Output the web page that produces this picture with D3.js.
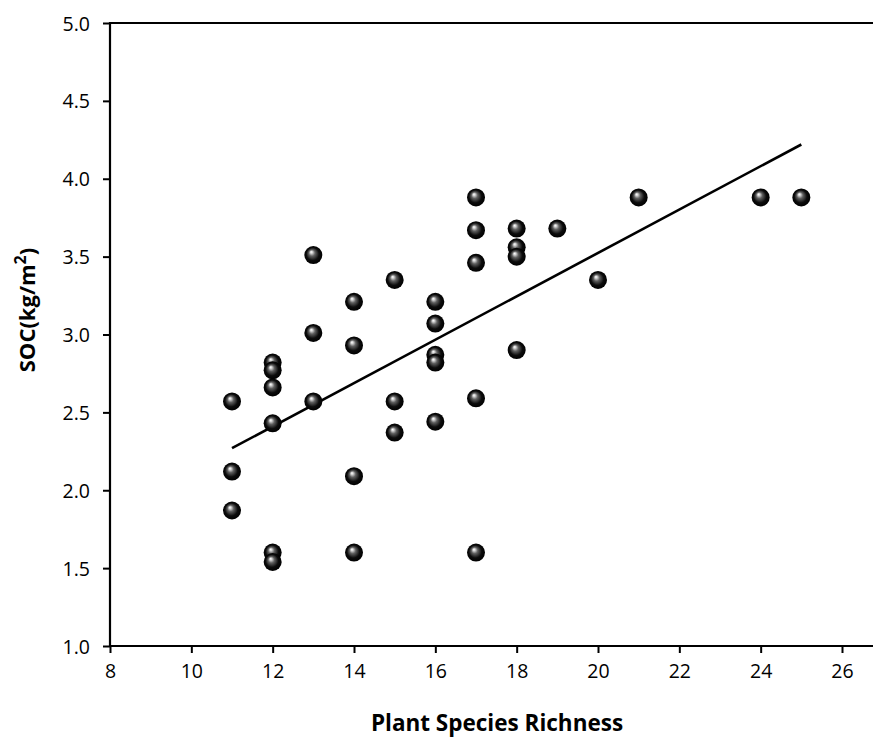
<!DOCTYPE html>
<html><head><meta charset="utf-8">
<script src="https://cdn.jsdelivr.net/npm/d3@7"></script>
<style>body{margin:0;background:#fff}svg{display:block}text{font-family:"Open Sans","Noto Sans",sans-serif}</style>
</head><body>
<svg id="c" width="873" height="738"></svg>
<script>
const richness = [11,11,11, 12,12,12,12,12,12, 13,13,13, 14,14,14,14, 15,15,15, 16,16,16,16,16, 17,17,17,17,17, 18,18,18,18, 19, 20, 21, 24, 25];
const soc      = [2.57,2.12,1.87, 2.82,2.77,2.66,2.43,1.60,1.54, 3.51,3.01,2.57, 3.21,2.93,2.09,1.60, 3.35,2.57,2.37, 3.21,3.07,2.87,2.82,2.44, 3.88,3.67,3.46,2.59,1.60, 3.68,3.56,3.50,2.90, 3.68, 3.35, 3.88, 3.88, 3.88];
const fitX = [11, 25];
const fitY = [2.27, 4.22];
const xTicks = [8,10,12,14,16,18,20,22,24,26];
const yTicks = [1.0,1.5,2.0,2.5,3.0,3.5,4.0,4.5,5.0];

const svg = d3.select("#c");
const x = d3.scaleLinear().domain([8, 26]).range([110, 842]);
const y = d3.scaleLinear().domain([1, 5]).range([646, 23]);
const xEnd = 873;

const defs = svg.append("defs");
const g = defs.append("radialGradient").attr("id","ball").attr("cx","0.5").attr("cy","0.5").attr("r","0.5").attr("fx","0.38").attr("fy","0.32");
g.append("stop").attr("offset","0").attr("stop-color","#ffffff");
g.append("stop").attr("offset","0.12").attr("stop-color","#d8d8d8");
g.append("stop").attr("offset","0.35").attr("stop-color","#606060");
g.append("stop").attr("offset","0.7").attr("stop-color","#0c0c0c");
g.append("stop").attr("offset","1").attr("stop-color","#000");

// axes
const xAxis = d3.axisBottom(x).tickValues(xTicks).tickFormat(d3.format("d")).tickSize(7).tickSizeOuter(0);
const yAxis = d3.axisLeft(y).tickValues(yTicks).tickFormat(d3.format(".1f")).tickSize(7).tickSizeOuter(0);
const gx = svg.append("g").attr("transform","translate(0,646)").call(xAxis);
const gy = svg.append("g").attr("transform","translate(110,0)").call(yAxis);
[gx, gy].forEach(a => {
  a.select(".domain").remove();
  a.selectAll(".tick line").attr("stroke","#000").attr("stroke-width",2);
  a.selectAll(".tick text").attr("fill","#000").style("font-size","19.5px");
});
gx.selectAll(".tick text").attr("y", 18);
gy.selectAll(".tick text").attr("x", -20).attr("dy","0.36em");

svg.append("line").attr("x1",110).attr("x2",xEnd).attr("y1",646).attr("y2",646).attr("stroke","#000").attr("stroke-width",2.2);
svg.append("line").attr("x1",110).attr("x2",xEnd).attr("y1",23).attr("y2",23).attr("stroke","#000").attr("stroke-width",2.2);
svg.append("line").attr("x1",110).attr("x2",110).attr("y1",22).attr("y2",647).attr("stroke","#000").attr("stroke-width",2.2);

// fit line
svg.append("line").attr("x1",x(fitX[0])).attr("y1",y(fitY[0])).attr("x2",x(fitX[1])).attr("y2",y(fitY[1]))
  .attr("stroke","#000").attr("stroke-width",2.6);

// points
svg.append("g").selectAll("circle").data(richness.map((r,i)=>[r,soc[i]])).join("circle")
  .attr("cx", d=>x(d[0])).attr("cy", d=>y(d[1])).attr("r", 9).attr("fill","url(#ball)");

// titles
svg.append("text").attr("x",497).attr("y",731).attr("text-anchor","middle")
  .style("font-size","22.5px").style("font-weight","bold").text("Plant Species Richness");
const yt = svg.append("text").attr("transform","translate(35,310) rotate(-90)").attr("text-anchor","middle")
  .style("font-size","22px").style("font-weight","bold");
yt.append("tspan").text("SOC(kg/m");
yt.append("tspan").attr("dy","-9").style("font-size","16px").text("2");
yt.append("tspan").attr("dy","9").text(")");
</script>
</body></html>
